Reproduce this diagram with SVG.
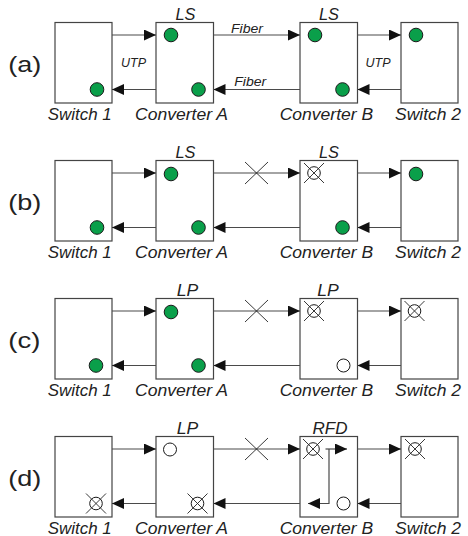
<svg xmlns="http://www.w3.org/2000/svg" xmlns:xlink="http://www.w3.org/1999/xlink" width="468" height="536" viewBox="0 0 468 536">
<style>
text{font-family:"Liberation Sans",Arial,sans-serif;fill:#222}
.nl{font-size:16px;font-style:italic}
.tl{font-size:16.5px;font-style:italic;text-anchor:middle}
.sl{font-size:12px;font-style:italic}
.rl{font-size:22px}
.box{fill:#fff;stroke:#444;stroke-width:1.2}
.ln{fill:none;stroke:#4a4a4a;stroke-width:1.2}
.g{fill:#0a9f4a;stroke:#1a1a1a;stroke-width:1}
.h{fill:#fff;stroke:#1a1a1a;stroke-width:1}
.x{fill:none;stroke:#222;stroke-width:0.9}
</style>
<defs>
<marker id="ah" markerUnits="userSpaceOnUse" markerWidth="12" markerHeight="11" refX="12" refY="5.5" orient="auto" viewBox="0 0 12 11">
<path d="M0,0 L12,5.5 L0,11 Z" fill="#111"/>
</marker>
<g id="xc"><circle r="6.3" class="h"/><path class="x" d="M-10,-10 L10,10 M-10,10 L10,-10"/></g>
<g id="gd"><circle r="6.8" class="g"/></g>
<g id="hc"><circle r="6.5" class="h"/></g>
<path id="cut" class="x" d="M-11.5,-11 L11.5,11 M-11.5,11 L11.5,-11" stroke-width="1"/>
</defs>

<!-- row labels -->
<text class="rl" x="8.3" y="72" textLength="33" lengthAdjust="spacingAndGlyphs">(a)</text>
<text class="rl" x="8.3" y="210" textLength="33" lengthAdjust="spacingAndGlyphs">(b)</text>
<text class="rl" x="8.3" y="348" textLength="32" lengthAdjust="spacingAndGlyphs">(c)</text>
<text class="rl" x="8.3" y="486" textLength="33" lengthAdjust="spacingAndGlyphs">(d)</text>

<!-- ===== Row (a) ===== -->
<g id="a-switch1">
<rect class="box" x="55" y="22.5" width="57" height="80.5"/>
<use xlink:href="#gd" x="97" y="89.5"/>
<text class="nl" x="47.7" y="120" textLength="64" lengthAdjust="spacingAndGlyphs">Switch 1</text>
</g>
<g id="a-convA">
<rect class="box" x="156" y="22.5" width="57.5" height="80.5"/>
<use xlink:href="#gd" x="171" y="35"/>
<use xlink:href="#gd" x="198.5" y="89.5"/>
<text class="tl" x="185.5" y="19.5" textLength="20" lengthAdjust="spacingAndGlyphs">LS</text>
<text class="nl" x="135" y="120" textLength="93" lengthAdjust="spacingAndGlyphs">Converter A</text>
</g>
<g id="a-convB">
<rect class="box" x="300" y="22.5" width="57.5" height="80.5"/>
<use xlink:href="#gd" x="315" y="35"/>
<use xlink:href="#gd" x="342.5" y="89.5"/>
<text class="tl" x="329" y="19.5" textLength="20" lengthAdjust="spacingAndGlyphs">LS</text>
<text class="nl" x="279.7" y="120" textLength="93.5" lengthAdjust="spacingAndGlyphs">Converter B</text>
</g>
<g id="a-switch2">
<rect class="box" x="401" y="22.5" width="57" height="80.5"/>
<use xlink:href="#gd" x="416" y="35"/>
<text class="nl" x="395" y="120" textLength="66" lengthAdjust="spacingAndGlyphs">Switch 2</text>
</g>

<!-- ===== Row (b) ===== -->
<g id="b-switch1">
<rect class="box" x="55" y="160.5" width="57" height="80.5"/>
<use xlink:href="#gd" x="97" y="227.5"/>
<text class="nl" x="47.7" y="258" textLength="64" lengthAdjust="spacingAndGlyphs">Switch 1</text>
</g>
<g id="b-convA">
<rect class="box" x="156" y="160.5" width="57.5" height="80.5"/>
<use xlink:href="#gd" x="171" y="174"/>
<use xlink:href="#gd" x="198.5" y="227.5"/>
<text class="tl" x="185.5" y="157.5" textLength="20" lengthAdjust="spacingAndGlyphs">LS</text>
<text class="nl" x="135" y="258" textLength="93" lengthAdjust="spacingAndGlyphs">Converter A</text>
</g>
<g id="b-convB">
<rect class="box" x="300" y="160.5" width="57.5" height="80.5"/>
<use xlink:href="#xc" x="314" y="173"/>
<use xlink:href="#gd" x="342.5" y="227.5"/>
<text class="tl" x="329" y="157.5" textLength="20" lengthAdjust="spacingAndGlyphs">LS</text>
<text class="nl" x="279.7" y="258" textLength="93.5" lengthAdjust="spacingAndGlyphs">Converter B</text>
</g>
<g id="b-switch2">
<rect class="box" x="401" y="160.5" width="57" height="80.5"/>
<use xlink:href="#gd" x="416" y="174"/>
<text class="nl" x="395" y="258" textLength="66" lengthAdjust="spacingAndGlyphs">Switch 2</text>
</g>

<!-- ===== Row (c) ===== -->
<g id="c-switch1">
<rect class="box" x="55" y="298.5" width="57" height="80.5"/>
<use xlink:href="#gd" x="96" y="365.5"/>
<text class="nl" x="47.7" y="396" textLength="64" lengthAdjust="spacingAndGlyphs">Switch 1</text>
</g>
<g id="c-convA">
<rect class="box" x="156" y="298.5" width="57.5" height="80.5"/>
<use xlink:href="#gd" x="171" y="312"/>
<use xlink:href="#gd" x="198.5" y="365.5"/>
<text class="tl" x="187.5" y="296" textLength="21.5" lengthAdjust="spacingAndGlyphs">LP</text>
<text class="nl" x="135" y="396" textLength="93" lengthAdjust="spacingAndGlyphs">Converter A</text>
</g>
<g id="c-convB">
<rect class="box" x="300" y="298.5" width="57.5" height="80.5"/>
<use xlink:href="#xc" x="314" y="311"/>
<use xlink:href="#hc" x="343.5" y="365.5"/>
<text class="tl" x="328" y="296" textLength="21.5" lengthAdjust="spacingAndGlyphs">LP</text>
<text class="nl" x="279.7" y="396" textLength="93.5" lengthAdjust="spacingAndGlyphs">Converter B</text>
</g>
<g id="c-switch2">
<rect class="box" x="401" y="298.5" width="57" height="80.5"/>
<use xlink:href="#xc" x="414.5" y="311"/>
<text class="nl" x="395" y="396" textLength="66" lengthAdjust="spacingAndGlyphs">Switch 2</text>
</g>

<!-- ===== Row (d) ===== -->
<g id="d-switch1">
<rect class="box" x="55" y="436.5" width="57" height="80.5"/>
<use xlink:href="#xc" x="96" y="503.5"/>
<text class="nl" x="47.7" y="534" textLength="64" lengthAdjust="spacingAndGlyphs">Switch 1</text>
</g>
<g id="d-convA">
<rect class="box" x="156" y="436.5" width="57.5" height="80.5"/>
<use xlink:href="#hc" x="170" y="449.5"/>
<use xlink:href="#xc" x="197.5" y="503.5"/>
<text class="tl" x="187.5" y="434" textLength="21.5" lengthAdjust="spacingAndGlyphs">LP</text>
<text class="nl" x="135" y="534" textLength="93" lengthAdjust="spacingAndGlyphs">Converter A</text>
</g>
<g id="d-convB">
<rect class="box" x="300" y="436.5" width="57.5" height="80.5"/>
<use xlink:href="#xc" x="313" y="449"/>
<use xlink:href="#hc" x="343.5" y="503.5"/>
<text class="tl" x="330" y="434" textLength="35" lengthAdjust="spacingAndGlyphs">RFD</text>
<text class="nl" x="279.7" y="534" textLength="93.5" lengthAdjust="spacingAndGlyphs">Converter B</text>
</g>
<g id="d-switch2">
<rect class="box" x="401" y="436.5" width="57" height="80.5"/>
<use xlink:href="#xc" x="415" y="449"/>
<text class="nl" x="395" y="534" textLength="66" lengthAdjust="spacingAndGlyphs">Switch 2</text>
</g>

<!-- ===== Connectors ===== -->
<g id="connectors">
<!-- row a -->
<path class="ln" d="M112,35 H156" marker-end="url(#ah)"/>
<path class="ln" d="M213.5,35 H300" marker-end="url(#ah)"/>
<path class="ln" d="M357.5,35 H401" marker-end="url(#ah)"/>
<path class="ln" d="M401,89.5 H357.5" marker-end="url(#ah)"/>
<path class="ln" d="M300,89.5 H213.5" marker-end="url(#ah)"/>
<path class="ln" d="M156,89.5 H112" marker-end="url(#ah)"/>
<text class="sl" x="121" y="67" textLength="25" lengthAdjust="spacingAndGlyphs">UTP</text>
<text class="sl" x="365.5" y="67" textLength="25" lengthAdjust="spacingAndGlyphs">UTP</text>
<text class="sl" x="231" y="32.5" textLength="32" lengthAdjust="spacingAndGlyphs">Fiber</text>
<text class="sl" x="234.3" y="86" textLength="32" lengthAdjust="spacingAndGlyphs">Fiber</text>
<!-- row b -->
<path class="ln" d="M112,173 H156" marker-end="url(#ah)"/>
<path class="ln" d="M213.5,173 H300" marker-end="url(#ah)"/>
<path class="ln" d="M357.5,173 H401" marker-end="url(#ah)"/>
<path class="ln" d="M401,227.5 H357.5" marker-end="url(#ah)"/>
<path class="ln" d="M300,227.5 H213.5" marker-end="url(#ah)"/>
<path class="ln" d="M156,227.5 H112" marker-end="url(#ah)"/>
<use xlink:href="#cut" x="256.5" y="173"/>
<!-- row c -->
<path class="ln" d="M112,311 H156" marker-end="url(#ah)"/>
<path class="ln" d="M213.5,311 H300" marker-end="url(#ah)"/>
<path class="ln" d="M357.5,311 H401" marker-end="url(#ah)"/>
<path class="ln" d="M401,365.5 H357.5" marker-end="url(#ah)"/>
<path class="ln" d="M300,365.5 H213.5" marker-end="url(#ah)"/>
<path class="ln" d="M156,365.5 H112" marker-end="url(#ah)"/>
<use xlink:href="#cut" x="256.5" y="311"/>
<!-- row d -->
<path class="ln" d="M112,449 H156" marker-end="url(#ah)"/>
<path class="ln" d="M213.5,449 H300" marker-end="url(#ah)"/>
<path class="ln" d="M357.5,449 H401" marker-end="url(#ah)"/>
<path class="ln" d="M401,503.5 H357.5" marker-end="url(#ah)"/>
<path class="ln" d="M300,503.5 H213.5" marker-end="url(#ah)"/>
<path class="ln" d="M156,503.5 H112" marker-end="url(#ah)"/>
<use xlink:href="#cut" x="256.5" y="449"/>
<path class="ln" d="M325.5,449 H347" marker-end="url(#ah)"/>
<path class="ln" d="M329,449 V503.5 H308" marker-end="url(#ah)"/>
</g>
</svg>
